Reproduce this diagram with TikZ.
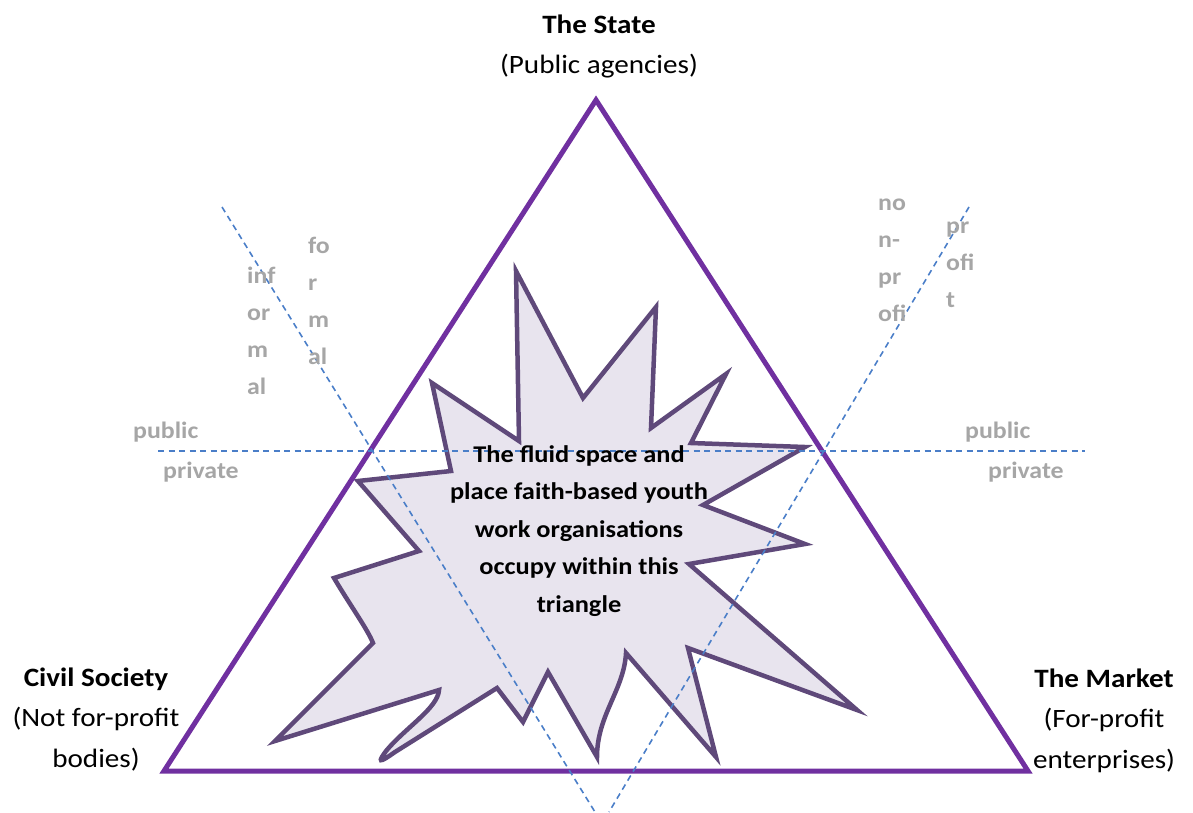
\documentclass[tikz,border=0pt]{standalone}
\usepackage{fontspec}
\setmainfont{Carlito}[FakeStretch=1.1]
\definecolor{trianglepurple}{HTML}{7030A0}
\definecolor{fluidline}{HTML}{5F497A}
\definecolor{fluidfill}{HTML}{E8E4EE}
\definecolor{splitblue}{HTML}{4A7EC8}
\definecolor{splitgray}{HTML}{A6A6A6}

\begin{document}
\begin{tikzpicture}[x=1pt, y=-1pt,
	sector/.style={font=\fontsize{26.5}{40.5}\selectfont, align=center, anchor=base, inner sep=0pt},
	split/.style={draw=splitblue, line width=1.6pt, dash pattern=on 6pt off 4.5pt},
	splitlabel/.style={font=\bfseries\fontsize{23.5}{37}\selectfont, text=splitgray, align=left, anchor=base west, inner sep=0pt}]
	\useasboundingbox (0, 0) rectangle (1193, 812);
	% Fluid space:
	\draw[draw=fluidline, fill=fluidfill, line width=4.5pt, line join=miter] (516, 271) -- (583, 398) -- (656, 307) -- (651, 428) -- (726, 374) -- (691, 443) -- (805, 447) -- (703, 505) -- (805, 544) -- (689, 564) -- (857, 710) -- (688, 648) -- (716, 757) -- (626, 653) .. controls (624, 690) and (597, 715) .. (597, 757) -- (548, 672) -- (523, 722) -- (497, 688) -- (395, 752) .. controls (378, 764) and (378, 762) .. (386, 751) .. controls (405, 728) and (438, 708) .. (439, 690) -- (275, 741) -- (373, 643) .. controls (368, 630) and (350, 605) .. (334, 578) -- (419, 551) -- (358, 481) -- (451, 471) -- (432, 383) -- (519, 441) -- cycle;
	% Triangle:
	\coordinate (apex) at (596, 100);
	\coordinate (left) at (164, 771);
	\coordinate (right) at (1028, 771);
	\draw[trianglepurple, line width=5pt] (apex) -- (left) -- (right) -- cycle;
	% Dividing lines:
	\coordinate (pp-w) at (158, 451);
	\coordinate (pp-e) at (1085, 451);
	\coordinate (fi-n) at (222, 207);
	\coordinate (fi-s) at (595, 812);
	\coordinate (np-n) at (969, 207);
	\coordinate (np-s) at (609, 812);
	\draw[split] (pp-w) -- (pp-e);
	\draw[split] (fi-n) -- (fi-s);
	\draw[split] (np-n) -- (np-s);
	% Labels (base = last line):
	\node[sector] (state) at (599, 73.5) {\textbf{The State}\\(Public agencies)};
	\node[sector] (civil) at (96, 767) {\textbf{Civil Society}\\(Not for-profit\\bodies)};
	\node[sector] (market) at (1104, 768) {\textbf{The Market}\\(For-profit\\enterprises)};
	\node[sector, font=\bfseries\fontsize{24}{37.5}\selectfont] (fluid) at (579, 612) {The fluid space and\\place faith-based youth\\work organisations\\occupy within this\\triangle};
	\node[splitlabel] (informal) at (247, 394) {inf\\or\\m\\al};
	\node[splitlabel] (formal) at (308, 364) {fo\\r\\m\\al};
	\node[splitlabel] (nonprofit) at (878, 321) {no\\n-\\pr\\ofi};
	\node[splitlabel] (profit) at (946, 307) {pr\\ofi\\t};
	\node[splitlabel] (public-w) at (133, 438) {public};
	\node[splitlabel] (private-w) at (163, 478) {private};
	\node[splitlabel] (public-e) at (965, 438) {public};
	\node[splitlabel] (private-e) at (988, 478) {private};
\end{tikzpicture}
\end{document}
